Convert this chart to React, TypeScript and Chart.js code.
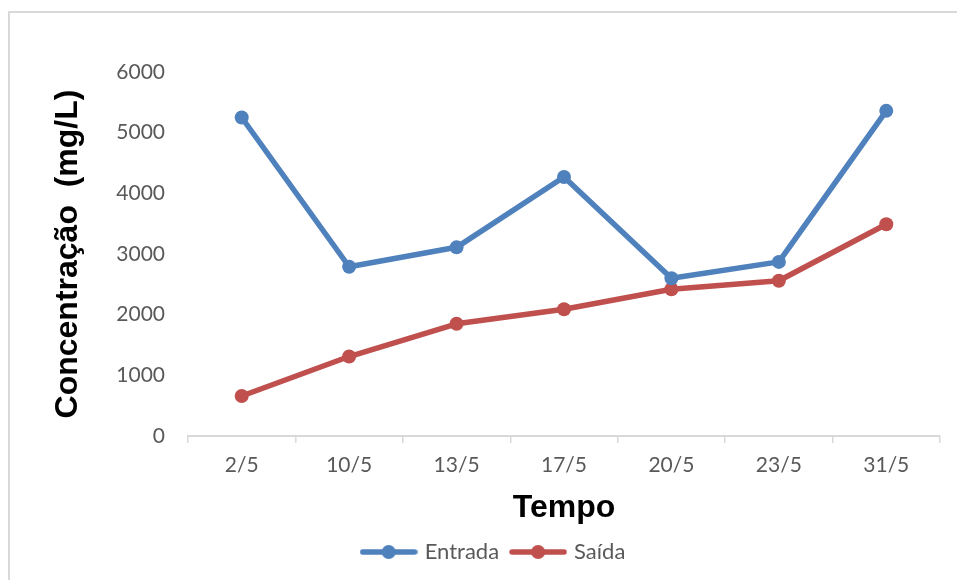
import { useEffect, useRef } from 'react';
import { Chart, registerables } from 'chart.js';

Chart.register(...registerables);

const labels = ['2/5', '10/5', '13/5', '17/5', '20/5', '23/5', '31/5'];
const entrada = [5250, 2790, 3110, 4270, 2600, 2870, 5360];
const saida = [660, 1310, 1850, 2090, 2420, 2560, 3490];
const yMin = 0;
const yMax = 6000;
const yStep = 1000;

const BLUE = '#4F81BD';
const RED = '#C0504D';
const GRAY_TEXT = '#595959';
const AXIS_GRAY = '#D9D9D9';

function legendIcon(color: string) {
  const c = document.createElement('canvas');
  c.width = 58;
  c.height = 18;
  const ctx = c.getContext('2d')!;
  ctx.strokeStyle = color;
  ctx.lineWidth = 5.5;
  ctx.lineCap = 'round';
  ctx.beginPath();
  ctx.moveTo(3, 9);
  ctx.lineTo(55, 9);
  ctx.stroke();
  ctx.fillStyle = color;
  ctx.beginPath();
  ctx.arc(29, 9, 7, 0, Math.PI * 2);
  ctx.fill();
  return c;
}

const framePlugin = {
  id: 'frame',
  beforeDraw(chart: any) {
    const ctx = chart.ctx;
    ctx.save();
    ctx.fillStyle = '#ffffff';
    ctx.fillRect(0, 0, chart.width, chart.height);
    ctx.strokeStyle = AXIS_GRAY;
    ctx.lineWidth = 2;
    ctx.strokeRect(9, 12, chart.width + 20, chart.height + 20);
    ctx.restore();
  },
};

export default function App() {
  const ref = useRef<HTMLCanvasElement | null>(null);
  useEffect(() => {
    if (!ref.current) return;
    const icons = [legendIcon(BLUE), legendIcon(RED)];
    const chart = new Chart(ref.current, {
      type: 'line',
      data: {
        labels,
        datasets: [
          {
            label: 'Entrada',
            data: entrada,
            borderColor: BLUE,
            backgroundColor: BLUE,
            borderWidth: 5.5,
            pointRadius: 7,
            pointBackgroundColor: BLUE,
            pointBorderColor: BLUE,
            pointBorderWidth: 0,
            borderCapStyle: 'round',
            borderJoinStyle: 'round',
            tension: 0,
          },
          {
            label: 'Saída',
            data: saida,
            borderColor: RED,
            backgroundColor: RED,
            borderWidth: 5.5,
            pointRadius: 7,
            pointBackgroundColor: RED,
            pointBorderColor: RED,
            pointBorderWidth: 0,
            borderCapStyle: 'round',
            borderJoinStyle: 'round',
            tension: 0,
          },
        ],
      },
      options: {
        animation: false,
        responsive: false,
        devicePixelRatio: 1,
        layout: { padding: { left: 49, right: 17, top: 72, bottom: 7 } },
        plugins: {
          tooltip: { enabled: false },
          legend: {
            display: true,
            position: 'bottom',
            labels: {
              usePointStyle: true,
              pointStyleWidth: 50,
              boxHeight: 16,
              padding: 14,
              color: GRAY_TEXT,
              font: { family: 'Lato', size: 22 },
              generateLabels: (ch: any) =>
                ch.data.datasets.map((ds: any, i: number) => ({
                  text: ds.label,
                  fillStyle: ds.borderColor,
                  strokeStyle: ds.borderColor,
                  lineWidth: 0,
                  pointStyle: icons[i],
                  hidden: false,
                  datasetIndex: i,
                  fontColor: GRAY_TEXT,
                })),
            },
          },
        },
        scales: {
          x: {
            offset: true,
            grid: {
              offset: true,
              drawOnChartArea: false,
              drawTicks: true,
              tickLength: 7,
              color: AXIS_GRAY,
              lineWidth: 1.5,
            },
            border: { display: true, color: AXIS_GRAY, width: 2 },
            ticks: { color: GRAY_TEXT, font: { family: 'Lato', size: 21 }, padding: 10, maxRotation: 0 },
            title: {
              display: true,
              text: 'Tempo',
              color: '#000000',
              font: { family: 'Liberation Sans', size: 32, weight: 'bold' },
              padding: 0,
            },
            afterFit: (s: any) => {
              s.height = 91;
            },
          },
          y: {
            min: yMin,
            max: yMax,
            grid: { display: false, drawTicks: false },
            border: { display: false },
            ticks: {
              stepSize: yStep,
              color: GRAY_TEXT,
              font: { family: 'Lato', size: 21 },
              padding: 23,
              callback: (v: any) => String(v),
            },
            title: {
              display: true,
              text: 'Concentração  (mg/L)',
              color: '#000000',
              font: { family: 'Liberation Sans', size: 32, weight: 'bold' },
              padding: 0,
            },
            afterFit: (s: any) => {
              s.width = 139;
            },
          },
        },
      },
      plugins: [framePlugin],
    } as any);
    return () => chart.destroy();
  }, []);
  return (
    <div style={{ position: 'absolute', left: 0, top: 0, width: 957, height: 580 }}>
      <canvas ref={ref} width={957} height={580} style={{ display: 'block', width: 957, height: 580 }} />
    </div>
  );
}
